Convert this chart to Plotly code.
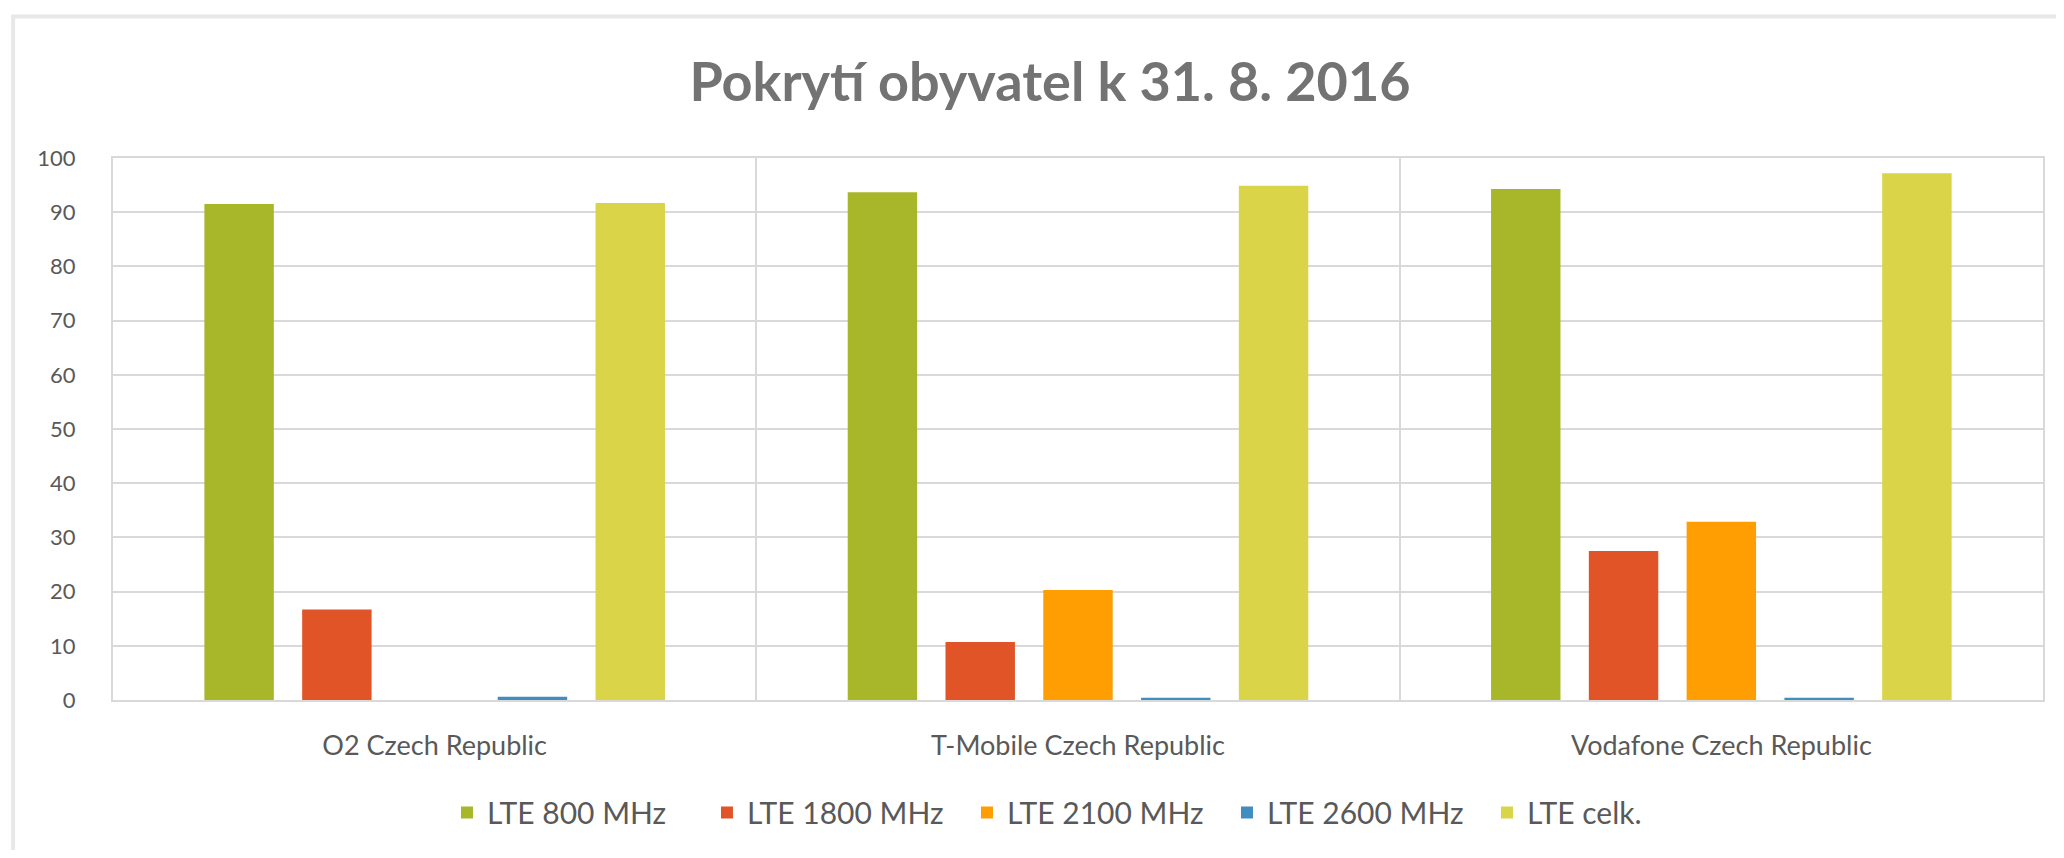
import plotly.graph_objects as go

categories = ["O2 Czech Republic", "T-Mobile Czech Republic", "Vodafone Czech Republic"]
series_names = ["LTE 800 MHz", "LTE 1800 MHz", "LTE 2100 MHz", "LTE 2600 MHz", "LTE celk."]
lte800 = [91.5, 93.7, 94.3]
lte1800 = [16.7, 10.7, 27.5]
lte2100 = [0, 20.3, 32.9]
lte2600 = [0.6, 0.4, 0.4]
lte_total = [91.7, 94.9, 97.2]
colors = ["#a8b72a", "#e05427", "#ff9e03", "#3f8ebf", "#d9d448"]
y_ticks = [0, 10, 20, 30, 40, 50, 60, 70, 80, 90, 100]

W, H = 2048, 842
L, R, T, B = 105, 11, 150, 148

fig = go.Figure()
for name, vals, col in zip(series_names, [lte800, lte1800, lte2100, lte2600, lte_total], colors):
    fig.add_trace(go.Bar(name=name, x=categories, y=vals, marker=dict(color=col, line=dict(width=0))))

pw = W - L - R
ph = H - T - B
def px_x(p):
    return (p - L) / pw
def px_y(p):
    return (H - B - p) / ph

grid = "#d9d9d9"
fig.update_layout(
    width=W, height=H,
    margin=dict(l=L, r=R, t=T, b=B),
    paper_bgcolor="white", plot_bgcolor="white",
    barmode="group", bargap=0.24, bargroupgap=0.29,
    font=dict(family="Lato, sans-serif", color="#595959"),
    title=dict(text="<b>Pokrytí obyvatel k 31. 8. 2016</b>", xref="container", x=1042 / W, xanchor="center",
               yref="container", y=1 - 74 / H, yanchor="middle",
               font=dict(family="Lato, sans-serif", size=54, color="#737373")),
    xaxis=dict(tickson="boundaries", showgrid=True, gridcolor=grid, gridwidth=2,
               ticks="", tickfont=dict(size=27, color="#595959"), ticklabelstandoff=21,
               showline=True, mirror=True, linecolor=grid, linewidth=2, zeroline=False),
    yaxis=dict(range=[0, 100], tickvals=y_ticks, showgrid=True, gridcolor=grid, gridwidth=2,
               ticks="", tickfont=dict(size=22, color="#595959"), ticklabelstandoff=31,
               zeroline=False, showline=True, mirror=True, linecolor=grid, linewidth=2),
    legend=dict(orientation="h", xanchor="center", x=px_x(1090), yanchor="middle", y=px_y(807),
                font=dict(size=30, color="#595959"), entrywidth=215, entrywidthmode="pixels",
                bgcolor="rgba(0,0,0,0)"),
    shapes=[
        dict(type="rect", xref="paper", yref="paper", x0=px_x(5), y0=px_y(880), x1=px_x(2090), y1=px_y(8),
             line=dict(color="#e8e8e8", width=4), fillcolor="rgba(0,0,0,0)", layer="below"),
    ],
)

fig.write_html("out.html")
